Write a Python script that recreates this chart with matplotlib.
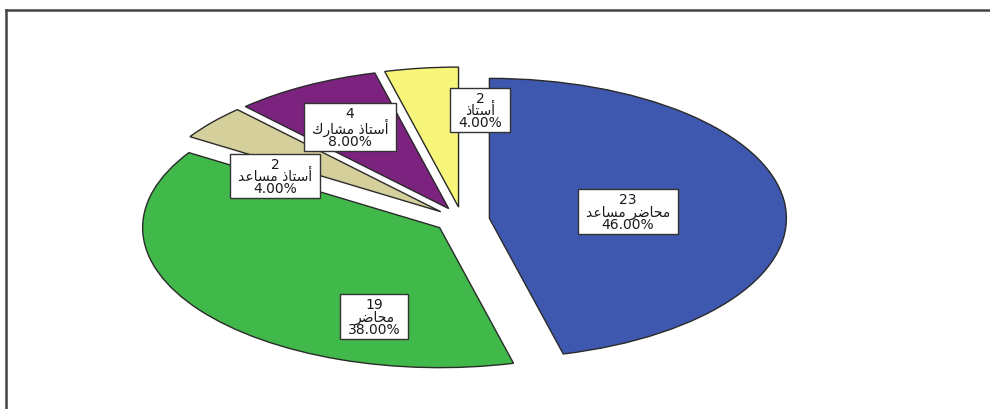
import matplotlib
matplotlib.use('Agg')
import matplotlib.pyplot as plt
from matplotlib.patches import Rectangle

# academic rank counts
ranks = ['محاضر مساعد', 'محاضر', 'أستاذ مساعد', 'أستاذ مشارك', 'أستاذ']
counts = [23, 19, 2, 4, 2]
colors = ['#3E58AF', '#41B94A', '#D5CF9C', '#7C237F', '#F7F57A']

# where each label box sits (axes data units)
label_xy = [(0.559, 0.060), (-0.296, -0.690), (-0.630, 0.314),
            (-0.377, 0.664), (0.061, 0.786)]

# presentation forms: isolated, final, initial, medial
FORMS = {
    'ا': ('\uFE8D', '\uFE8E', None, None),
    'أ': ('\uFE83', '\uFE84', None, None),
    'ت': ('\uFE95', '\uFE96', '\uFE97', '\uFE98'),
    'ح': ('\uFEA1', '\uFEA2', '\uFEA3', '\uFEA4'),
    'د': ('\uFEA9', '\uFEAA', None, None),
    'ذ': ('\uFEAB', '\uFEAC', None, None),
    'ر': ('\uFEAD', '\uFEAE', None, None),
    'س': ('\uFEB1', '\uFEB2', '\uFEB3', '\uFEB4'),
    'ش': ('\uFEB5', '\uFEB6', '\uFEB7', '\uFEB8'),
    'ض': ('\uFEBD', '\uFEBE', '\uFEBF', '\uFEC0'),
    'ع': ('\uFEC9', '\uFECA', '\uFECB', '\uFECC'),
    'ك': ('\uFED9', '\uFEDA', '\uFEDB', '\uFEDC'),
    'م': ('\uFEE1', '\uFEE2', '\uFEE3', '\uFEE4'),
}


def shape(text):
    # join letters and lay them out right-to-left, since matplotlib won't
    words = []
    for w in text.split(' '):
        glyphs = []
        for i, ch in enumerate(w):
            iso, fin, ini, med = FORMS[ch]
            joined_prev = i > 0 and FORMS[w[i - 1]][2] is not None
            joins_next = ini is not None and i < len(w) - 1
            if joined_prev and joins_next:
                g = med
            elif joined_prev:
                g = fin
            elif joins_next:
                g = ini
            else:
                g = iso
            glyphs.append(g)
        words.append(''.join(reversed(glyphs)))
    return ' '.join(reversed(words))


total = sum(counts)

fig = plt.figure(figsize=(9.9, 4.1), dpi=100)
ax = fig.add_axes([0, 0, 1, 1])

wedges, _ = ax.pie(counts, colors=colors, startangle=90, counterclock=False,
                   explode=[0.093] * len(counts),
                   wedgeprops=dict(edgecolor='#2a2a2a', linewidth=1.0))

# stretch the pie into an ellipse: 297 px wide radius, 140 px tall
cx, cy = 462, 221
rx, ry = 297, 140
ax.set_aspect('auto')
ax.set_xlim(-cx / rx, (990 - cx) / rx)
ax.set_ylim(-(410 - cy) / ry, cy / ry)
ax.axis('off')

texts = []
for (x, y), n, rank in zip(label_xy, counts, ranks):
    txt = '{}\n{}\n{:.2f}%'.format(n, shape(rank), 100.0 * n / total)
    t = ax.text(x, y, txt, ha='center', va='center', fontsize=10,
                family='DejaVu Sans', color='#1a1a1a',
                linespacing=0.82, zorder=5)
    texts.append(t)

# white label boxes, wider than tall like the SPSS ones
fig.canvas.draw()
renderer = fig.canvas.get_renderer()
inv = ax.transData.inverted()
for t in texts:
    bb = t.get_window_extent(renderer)
    (x0, y0) = inv.transform((bb.x0 - 8, bb.y0 - 3))
    (x1, y1) = inv.transform((bb.x1 + 8, bb.y1 + 3))
    ax.add_patch(Rectangle((x0, y0), x1 - x0, y1 - y0, facecolor='white',
                           edgecolor='#333333', linewidth=1.0, zorder=4))

# outer frame, open on the right and bottom
fig.add_artist(plt.Line2D([6 / 990, 1], [1 - 11 / 410] * 2,
                          color='#444444', linewidth=1.8))
fig.add_artist(plt.Line2D([6 / 990] * 2, [0, 1 - 11 / 410],
                          color='#444444', linewidth=1.8))

fig.savefig('out.png', dpi=100)
